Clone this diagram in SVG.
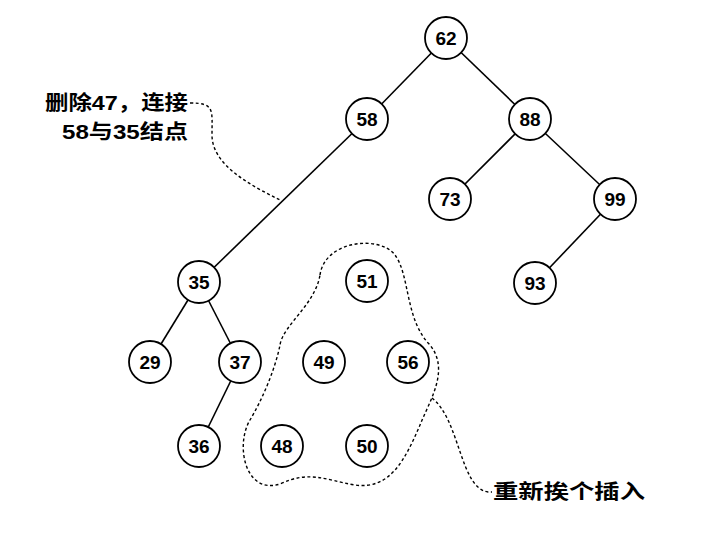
<svg xmlns="http://www.w3.org/2000/svg" width="711" height="534" viewBox="0 0 711 534">
<style>
.n circle{fill:#fff;stroke:#000;stroke-width:1.8}
.n text{font-family:"Liberation Sans",sans-serif;font-size:19px;font-weight:bold;text-anchor:middle;dominant-baseline:central}
.e line{stroke:#000;stroke-width:1.6}
.d{fill:none;stroke:#000;stroke-width:1.4;stroke-dasharray:3 2.5}
.l{font-family:"Liberation Sans","Noto Sans CJK SC",sans-serif;font-size:20px;font-weight:bold}
</style>
<rect width="711" height="534" fill="#fff"/>
<g id="connectors" class="e">
<line x1="446" y1="38" x2="367" y2="119"/>
<line x1="446" y1="38" x2="530" y2="119"/>
<line x1="530" y1="119" x2="450" y2="199"/>
<line x1="530" y1="119" x2="615" y2="199"/>
<line x1="615" y1="199" x2="535" y2="283"/>
<line x1="367" y1="119" x2="199" y2="282"/>
<line x1="199" y1="282" x2="150" y2="362"/>
<line x1="199" y1="282" x2="240" y2="362"/>
<line x1="240" y1="362" x2="199" y2="446"/>
<path class="d" d="M190,103 C215,103 212,110 212,135 C212,165 250,185 280,200"/>
<path class="d" d="M432,398 C460,420 460,488 488,492 L492,492"/>
<path class="d" d="M320,275 C325,240 380,235 395,255 C410,275 405,320 430,345 C450,370 430,400 420,425 C405,460 390,490 355,485 C325,480 310,470 280,484 C245,495 235,445 250,420 C262,400 275,370 280,345 C283,325 315,305 320,275 Z"/>
</g>
<g id="n62" class="n"><circle cx="446" cy="38" r="21"/><text x="446" y="38">62</text></g>
<g id="n58" class="n"><circle cx="367" cy="119" r="21"/><text x="367" y="119">58</text></g>
<g id="n88" class="n"><circle cx="530" cy="119" r="21"/><text x="530" y="119">88</text></g>
<g id="n73" class="n"><circle cx="450" cy="199" r="21"/><text x="450" y="199">73</text></g>
<g id="n99" class="n"><circle cx="615" cy="199" r="21"/><text x="615" y="199">99</text></g>
<g id="n93" class="n"><circle cx="535" cy="283" r="21"/><text x="535" y="283">93</text></g>
<g id="n35" class="n"><circle cx="199" cy="282" r="21"/><text x="199" y="282">35</text></g>
<g id="n51" class="n"><circle cx="367" cy="281" r="21"/><text x="367" y="281">51</text></g>
<g id="n29" class="n"><circle cx="150" cy="362" r="21"/><text x="150" y="362">29</text></g>
<g id="n37" class="n"><circle cx="240" cy="362" r="21"/><text x="240" y="362">37</text></g>
<g id="n49" class="n"><circle cx="324" cy="362" r="21"/><text x="324" y="362">49</text></g>
<g id="n56" class="n"><circle cx="408" cy="362" r="21"/><text x="408" y="362">56</text></g>
<g id="n36" class="n"><circle cx="199" cy="446" r="21"/><text x="199" y="446">36</text></g>
<g id="n48" class="n"><circle cx="282" cy="446" r="21"/><text x="282" y="446">48</text></g>
<g id="n50" class="n"><circle cx="367" cy="446" r="21"/><text x="367" y="446">50</text></g>
<g id="labels">
<text class="l" x="45" y="110" textLength="143" lengthAdjust="spacingAndGlyphs">删除47，连接</text>
<text class="l" x="62" y="139" textLength="126" lengthAdjust="spacingAndGlyphs">58与35结点</text>
<text class="l" x="493" y="499" textLength="152" lengthAdjust="spacingAndGlyphs">重新挨个插入</text>
</g>
</svg>
